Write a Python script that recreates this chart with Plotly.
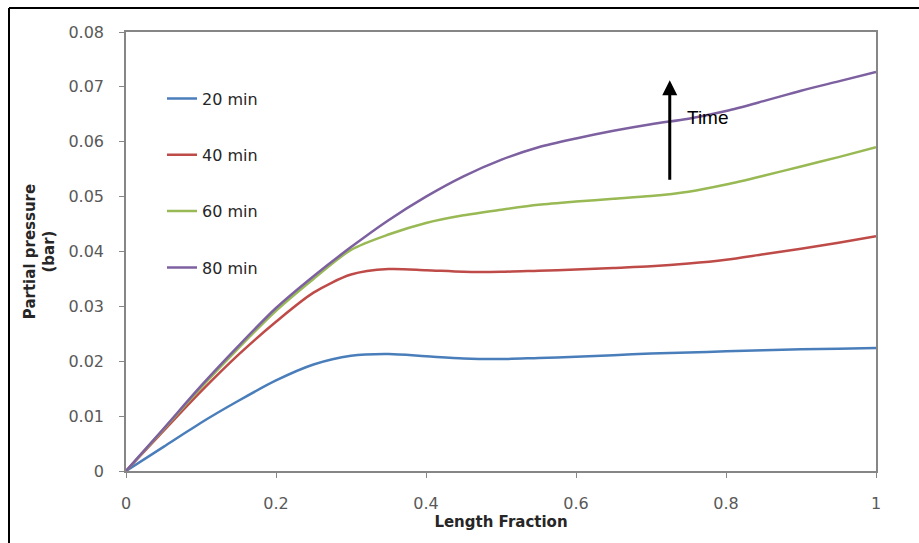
import plotly.graph_objects as go

length_fraction = [0, 0.05, 0.1, 0.15, 0.2, 0.25, 0.3, 0.35, 0.4, 0.45, 0.5,
                   0.55, 0.6, 0.65, 0.7, 0.75, 0.8, 0.85, 0.9, 0.95, 1.0]
p_20 = [0, 0.0044, 0.0088, 0.0128, 0.0165, 0.0194, 0.0210, 0.0213, 0.0209, 0.0205, 0.0204,
        0.0206, 0.0208, 0.0211, 0.0214, 0.0216, 0.0218, 0.0220, 0.0222, 0.0223, 0.0224]
p_40 = [0, 0.0073, 0.0145, 0.0212, 0.0272, 0.0325, 0.0358, 0.0368, 0.0366, 0.0363, 0.0363,
        0.0365, 0.0367, 0.0370, 0.0373, 0.0378, 0.0385, 0.0395, 0.0405, 0.0416, 0.0428]
p_60 = [0, 0.0076, 0.0152, 0.0224, 0.0292, 0.0350, 0.0403, 0.0431, 0.0452, 0.0466, 0.0476,
        0.0485, 0.0491, 0.0496, 0.0501, 0.0509, 0.0522, 0.0538, 0.0555, 0.0572, 0.0590]
p_80 = [0, 0.0077, 0.0155, 0.0228, 0.0297, 0.0355, 0.0408, 0.0457, 0.0500, 0.0537, 0.0567,
        0.0590, 0.0606, 0.0620, 0.0632, 0.0642, 0.0656, 0.0674, 0.0693, 0.0710, 0.0727]

series_names = ["20 min", "40 min", "60 min", "80 min"]
series_values = [p_20, p_40, p_60, p_80]
series_colors = ["#4A7EBB", "#BE4B48", "#98B954", "#7D60A0"]

x_ticks = [0, 0.2, 0.4, 0.6, 0.8, 1]
x_tick_labels = ["0", "0.2", "0.4", "0.6", "0.8", "1"]
y_ticks = [0, 0.01, 0.02, 0.03, 0.04, 0.05, 0.06, 0.07, 0.08]
y_tick_labels = ["0", "0.01", "0.02", "0.03", "0.04", "0.05", "0.06", "0.07", "0.08"]

arrow_x = 0.725
arrow_tail_y = 0.0528
arrow_head_y = 0.0712
arrow_label = "Time"

fig = go.Figure()
for i, (name, vals, col) in enumerate(zip(series_names, series_values, series_colors)):
    fig.add_trace(go.Scatter(
        x=length_fraction, y=vals, name=name, mode="lines",
        line=dict(color=col, width=2.5, shape="spline", smoothing=0.8),
        legendgroup=name,
    ))

fig.add_annotation(
    x=arrow_x, y=arrow_head_y, ax=arrow_x, ay=arrow_tail_y,
    xref="x", yref="y", axref="x", ayref="y",
    showarrow=True, arrowhead=2, arrowsize=1, arrowwidth=3, arrowcolor="black", text="",
)
fig.add_annotation(
    x=arrow_x + 0.020, y=0.0644, xref="x", yref="y", text=arrow_label, showarrow=False,
    xanchor="left", yanchor="middle",
    font=dict(family="Liberation Sans, Arial", size=19, color="black"),
)

# outer frame (left and top edges)
fig.add_shape(type="line", xref="paper", yref="paper", x0=-0.156, x1=1.1, y0=1.0547, y1=1.0547,
              line=dict(color="black", width=2))
fig.add_shape(type="line", xref="paper", yref="paper", x0=-0.156, x1=-0.156, y0=-0.2, y1=1.0547,
              line=dict(color="black", width=2))

axis_font = dict(family="DejaVu Sans, sans-serif", size=16, color="#595959")
title_font = dict(family="DejaVu Sans, sans-serif", size=15, color="#262626")
fig.update_layout(
    width=919, height=543,
    margin=dict(l=126, r=43, t=32, b=72),
    paper_bgcolor="white", plot_bgcolor="white",
    showlegend=True,
    legend=dict(
        x=0.048, y=0.887, xanchor="left", yanchor="top",
        bgcolor="rgba(0,0,0,0)", tracegroupgap=32.5,
        font=dict(family="DejaVu Sans, sans-serif", size=16, color="#262626"),
        traceorder="grouped",
    ),
    xaxis=dict(
        range=[0, 1], tickvals=x_ticks, ticktext=x_tick_labels,
        showgrid=False, zeroline=False, showline=True, linecolor="#868686", linewidth=1.5,
        mirror=True, ticks="outside", ticklen=5, tickcolor="#868686",
        tickfont=axis_font, ticklabelstandoff=12,
        title=dict(text="<b>Length Fraction</b>", standoff=0, font=title_font),
    ),
    yaxis=dict(
        range=[0, 0.08], tickvals=y_ticks, ticktext=y_tick_labels,
        showgrid=False, zeroline=False, showline=True, linecolor="#868686", linewidth=1.5,
        mirror=True, ticks="outside", ticklen=5, tickcolor="#868686",
        tickfont=axis_font, ticklabelstandoff=12,
        title=dict(text="<b>Partial pressure<br>(bar)</b>", standoff=10, font=title_font),
    ),
)

fig.write_html("out.html")
